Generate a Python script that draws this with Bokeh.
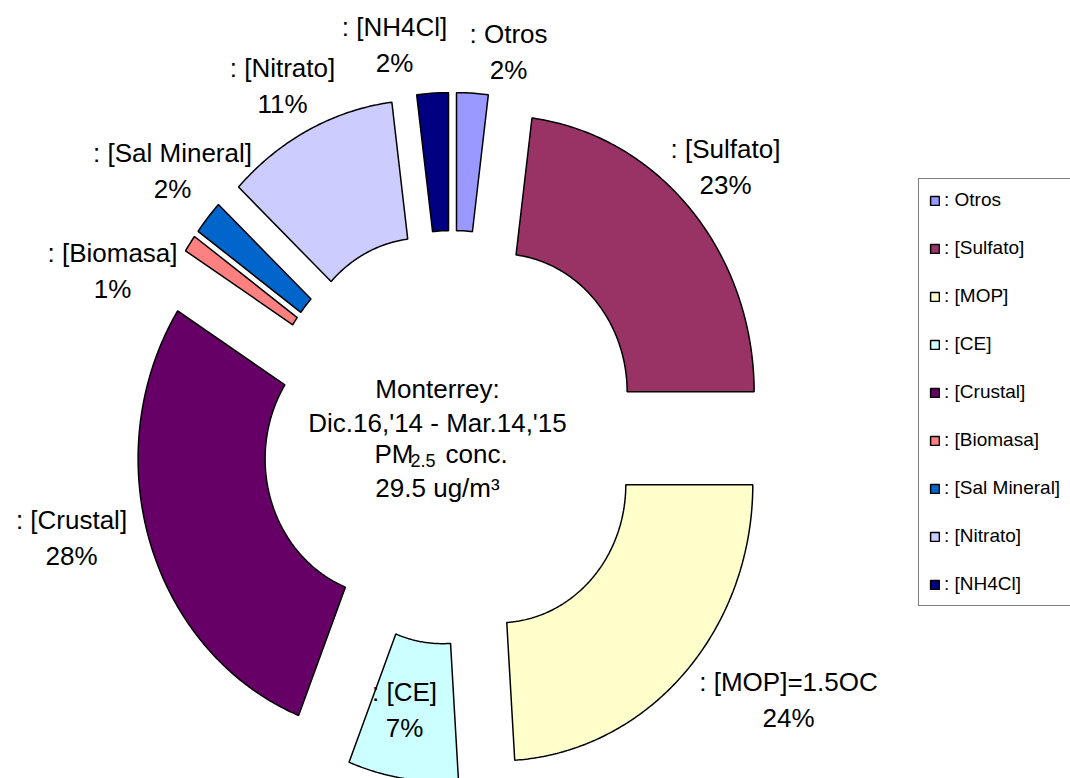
import numpy as np
from bokeh.plotting import figure
from bokeh.models import Range1d, ColumnDataSource, Legend, LegendItem
from bokeh.embed import file_html
from bokeh.resources import INLINE
from bokeh.core.properties import value

# ---------------- data ----------------
categories = ["Otros", "[Sulfato]", "[MOP]", "[CE]", "[Crustal]",
              "[Biomasa]", "[Sal Mineral]", "[Nitrato]", "[NH4Cl]"]
legend_labels = [": Otros", ": [Sulfato]", ": [MOP]", ": [CE]", ": [Crustal]",
                 ": [Biomasa]", ": [Sal Mineral]", ": [Nitrato]", ": [NH4Cl]"]
slice_labels = [": Otros", ": [Sulfato]", ": [MOP]=1.5OC", ": [CE]", ": [Crustal]",
                ": [Biomasa]", ": [Sal Mineral]", ": [Nitrato]", ": [NH4Cl]"]
percents = [2, 23, 24, 7, 28, 1, 2, 11, 2]
colors = ["#9999FF", "#993366", "#FFFFCC", "#CCFFFF", "#660066",
          "#FF8080", "#0066CC", "#CCCCFF", "#000080"]

# ---------------- layout ----------------
W, H = 1070, 778             # data units == page pixels
CX, CY = 452, 437            # donut centre
RX, RY = 254, 276            # outer radii (chart is slightly stretched vertically)
HOLE = 0.5
EXPLODE = 0.25
FONT = "Liberation Sans"

# label anchor positions (page pixels)
label_pos = [(508, 51), (725, 166), (788, 699), (404, 709), (71, 537),
             (112, 270), (172, 170), (282, 85), (394, 44)]

p = figure(width=W, height=H, output_backend="svg", toolbar_location=None,
           x_range=Range1d(0, W), y_range=Range1d(H, 0),
           min_border=0, outline_line_color=None)
p.axis.visible = False
p.grid.visible = False

total = float(sum(percents))
cum = np.concatenate([[0], np.cumsum(percents)]) / total * 2 * np.pi
xs, ys = [], []
for i in range(len(percents)):
    a0, a1 = cum[i], cum[i + 1]
    bis = 0.5 * (a0 + a1)
    ox, oy = EXPLODE * np.sin(bis), EXPLODE * np.cos(bis)
    n = max(8, int(np.degrees(a1 - a0) * 2))
    t = np.linspace(a0, a1, n)
    u = np.concatenate([ox + np.sin(t), ox + HOLE * np.sin(t[::-1])])
    v = np.concatenate([oy + np.cos(t), oy + HOLE * np.cos(t[::-1])])
    xs.append(list(CX + RX * u))
    ys.append(list(CY - RY * v))

src = ColumnDataSource(dict(xs=xs, ys=ys, color=colors, name=legend_labels))
r = p.patches("xs", "ys", source=src, fill_color="color", line_color="black",
              line_width=1.5)

# slice labels
lab_src = ColumnDataSource(dict(
    x=[q[0] for q in label_pos], y=[q[1] for q in label_pos],
    text=[f"{s}\n{v}%" for s, v in zip(slice_labels, percents)]))
p.text("x", "y", text="text", source=lab_src, text_align="center",
       text_baseline="middle", text_font=value(FONT), text_font_size="26px",
       text_color="black", text_line_height=1.2)

# centre text
p.text(x=[437, 437], y=[388, 422], text=["Monterrey:", "Dic.16,'14 - Mar.14,'15"],
       text_align="center", text_baseline="alphabetic", text_font=value(FONT),
       text_font_size="26px", text_color="black")
p.text(x=[374], y=[453], text=["PM"], text_align="left", text_baseline="alphabetic",
       text_font=value(FONT), text_font_size="26px", text_color="black")
p.text(x=[410], y=[460], text=["2.5"], text_align="left", text_baseline="alphabetic",
       text_font=value(FONT), text_font_size="18px", text_color="black")
p.text(x=[445], y=[453], text=["conc."], text_align="left", text_baseline="alphabetic",
       text_font=value(FONT), text_font_size="26px", text_color="black")
p.text(x=[437], y=[487], text=["29.5 ug/m\u00b3"], text_align="center",
       text_baseline="alphabetic", text_font=value(FONT), text_font_size="26px",
       text_color="black")

# legend
items = [LegendItem(label=lbl, renderers=[r], index=i) for i, lbl in enumerate(legend_labels)]
legend = Legend(items=items, location=(918, 172), orientation="vertical",
                label_text_font=FONT, label_text_font_size="19px",
                label_text_color="black", glyph_width=11, glyph_height=11,
                label_standoff=4, spacing=26, padding=10, margin=0,
                border_line_color="black", border_line_width=1,
                background_fill_color="white", background_fill_alpha=1.0)
p.add_layout(legend)

open("out.html", "w").write(file_html(p, INLINE))
